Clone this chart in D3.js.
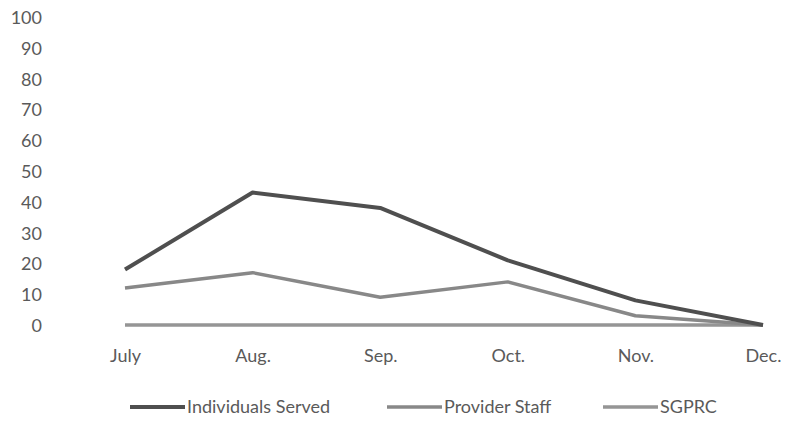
<!DOCTYPE html>
<html>
<head>
<meta charset="utf-8">
<script src="https://cdn.jsdelivr.net/npm/d3@7"></script>
<style>
  body { margin: 0; background: #fff; }
  text { font-family: Lato, "Open Sans", sans-serif; fill: #5a5a5a; }
</style>
</head>
<body>
<div id="chart"></div>
<script>
// chart data
var months = ["July", "Aug.", "Sep.", "Oct.", "Nov.", "Dec."];
var individualsServed = [18, 43, 38, 21, 8, 0];
var providerStaff = [12, 17, 9, 14, 3, 0];
var sgprc = [0, 0, 0, 0, 0, 0];
var yTicks = [0, 10, 20, 30, 40, 50, 60, 70, 80, 90, 100];
var seriesNames = ["Individuals Served", "Provider Staff", "SGPRC"];

var svgWidth = 785;
var svgHeight = 422;
var fontSize = 18;

var svg = d3.select("#chart")
  .append("svg")
  .attr("width", svgWidth)
  .attr("height", svgHeight);

var series = [
  { name: seriesNames[0], values: individualsServed, color: "#4f4f4f", width: 4 },
  { name: seriesNames[1], values: providerStaff, color: "#888888", width: 3.5 },
  { name: seriesNames[2], values: sgprc, color: "#959595", width: 3.5 }
];

// scales
var xScale = d3.scalePoint()
  .domain(months)
  .range([125, 763]);

var yScale = d3.scaleLinear()
  .domain([0, 100])
  .range([325, 17]);

// y axis (labels only)
var leftAxis = d3.axisLeft(yScale)
  .tickValues(yTicks)
  .tickSize(0)
  .tickPadding(0);

svg.append("g")
  .attr("transform", "translate(42,0)")
  .call(leftAxis)
  .call(g => g.select(".domain").remove())
  .selectAll("text")
  .attr("font-size", fontSize)
  .attr("font-family", null)
  .attr("dy", "0.36em");

// x axis (labels only)
var bottomAxis = d3.axisBottom(xScale)
  .tickSize(0)
  .tickPadding(0);

svg.append("g")
  .attr("transform", "translate(0,349)")
  .call(bottomAxis)
  .call(g => g.select(".domain").remove())
  .selectAll("text")
  .attr("font-size", fontSize)
  .attr("font-family", null)
  .attr("dy", "0.71em");

svg.selectAll(".tick text").style("fill", "#5a5a5a");

// lines, drawn bottom series first so the dark one sits on top
var line = d3.line()
  .x((d, i) => xScale(months[i]))
  .y(d => yScale(d));

svg.selectAll(".series")
  .data(series.slice().reverse())
  .enter()
  .append("path")
  .attr("class", "series")
  .attr("d", d => line(d.values))
  .attr("fill", "none")
  .attr("stroke", d => d.color)
  .attr("stroke-width", d => d.width)
  .attr("stroke-linejoin", "round");

// legend: each entry starts where the reference has it
var legendX = [130, 387, 603];
var legend = svg.append("g").attr("transform", "translate(0,407)");
series.forEach(function(s, i) {
  legend.append("line")
    .attr("x1", legendX[i])
    .attr("x2", legendX[i] + 55)
    .attr("y1", 0)
    .attr("y2", 0)
    .attr("stroke", s.color)
    .attr("stroke-width", s.width);
  legend.append("text")
    .attr("x", legendX[i] + 57)
    .attr("y", 0)
    .attr("dy", "0.35em")
    .attr("font-size", fontSize)
    .text(s.name);
});
</script>
</body>
</html>
